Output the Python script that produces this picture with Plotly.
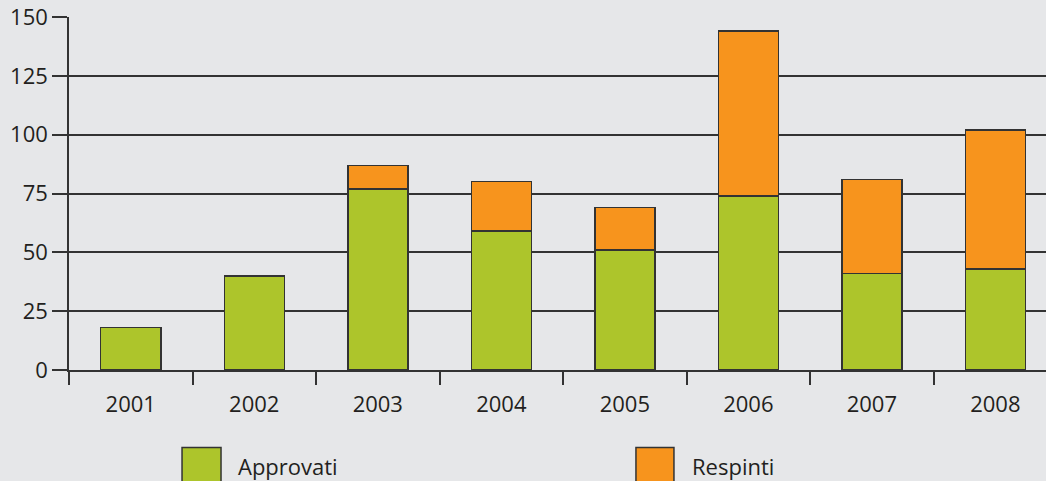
import plotly.graph_objects as go

years = ["2001", "2002", "2003", "2004", "2005", "2006", "2007", "2008"]
approvati = [18, 40, 77, 59, 51, 74, 41, 43]
respinti = [0, 0, 10, 21, 18, 70, 40, 59]
y_ticks = [0, 25, 50, 75, 100, 125, 150]

GREEN = "#adc52b"
ORANGE = "#f7941d"
BG = "#e6e7e9"
LINE = "#333333"
FONT = "Open Sans"
FS = 22

fig = go.Figure()
fig.add_trace(go.Bar(x=years, y=approvati, name="Approvati",
                     marker=dict(color=GREEN, line=dict(color=LINE, width=1.5))))
fig.add_trace(go.Bar(x=years, y=respinti, name="Respinti",
                     marker=dict(color=ORANGE, line=dict(color=LINE, width=1.5))))

fig.update_layout(
    barmode="stack",
    bargap=0.514,
    width=1046, height=481,
    margin=dict(l=69, r=0, t=17, b=111, pad=0),
    paper_bgcolor=BG, plot_bgcolor=BG,
    showlegend=False,
    font=dict(family=FONT, size=FS, color="#231f20"),
)
fig.update_xaxes(
    type="category", range=[-0.5, 7.41],
    showgrid=False, showline=True, linecolor=LINE, linewidth=1.5,
    ticks="outside", tickson="boundaries", ticklen=13, tickwidth=1.5, tickcolor=LINE,
    tickfont=dict(size=FS, family=FONT), ticklabelstandoff=14,
)
fig.update_yaxes(
    range=[0, 150], tickvals=y_ticks,
    showgrid=True, gridcolor=LINE, gridwidth=1.5,
    zeroline=False, showline=True, linecolor=LINE, linewidth=1.5,
    ticks="outside", ticklen=15, tickwidth=1.5, tickcolor=LINE,
    tickfont=dict(size=FS, family=FONT),
)

# Legend drawn manually
legend_items = [("Approvati", GREEN, 0.1157, 0.1556, 0.1709),
                ("Respinti", ORANGE, 0.5803, 0.6192, 0.6356)]
for name, col, x0, x1, tx in legend_items:
    fig.add_shape(type="rect", xref="paper", yref="paper",
                  x0=x0, x1=x1, y0=-0.33, y1=-0.2195,
                  fillcolor=col, line=dict(color=LINE, width=1.5))
    fig.add_annotation(xref="paper", yref="paper", x=tx, y=-0.272,
                       text=name, showarrow=False, xanchor="left", yanchor="middle",
                       font=dict(size=FS, family=FONT))

fig.write_html("out.html", config={"displayModeBar": False},
               post_script="document.body.style.margin='0';document.body.style.overflow='hidden';")
